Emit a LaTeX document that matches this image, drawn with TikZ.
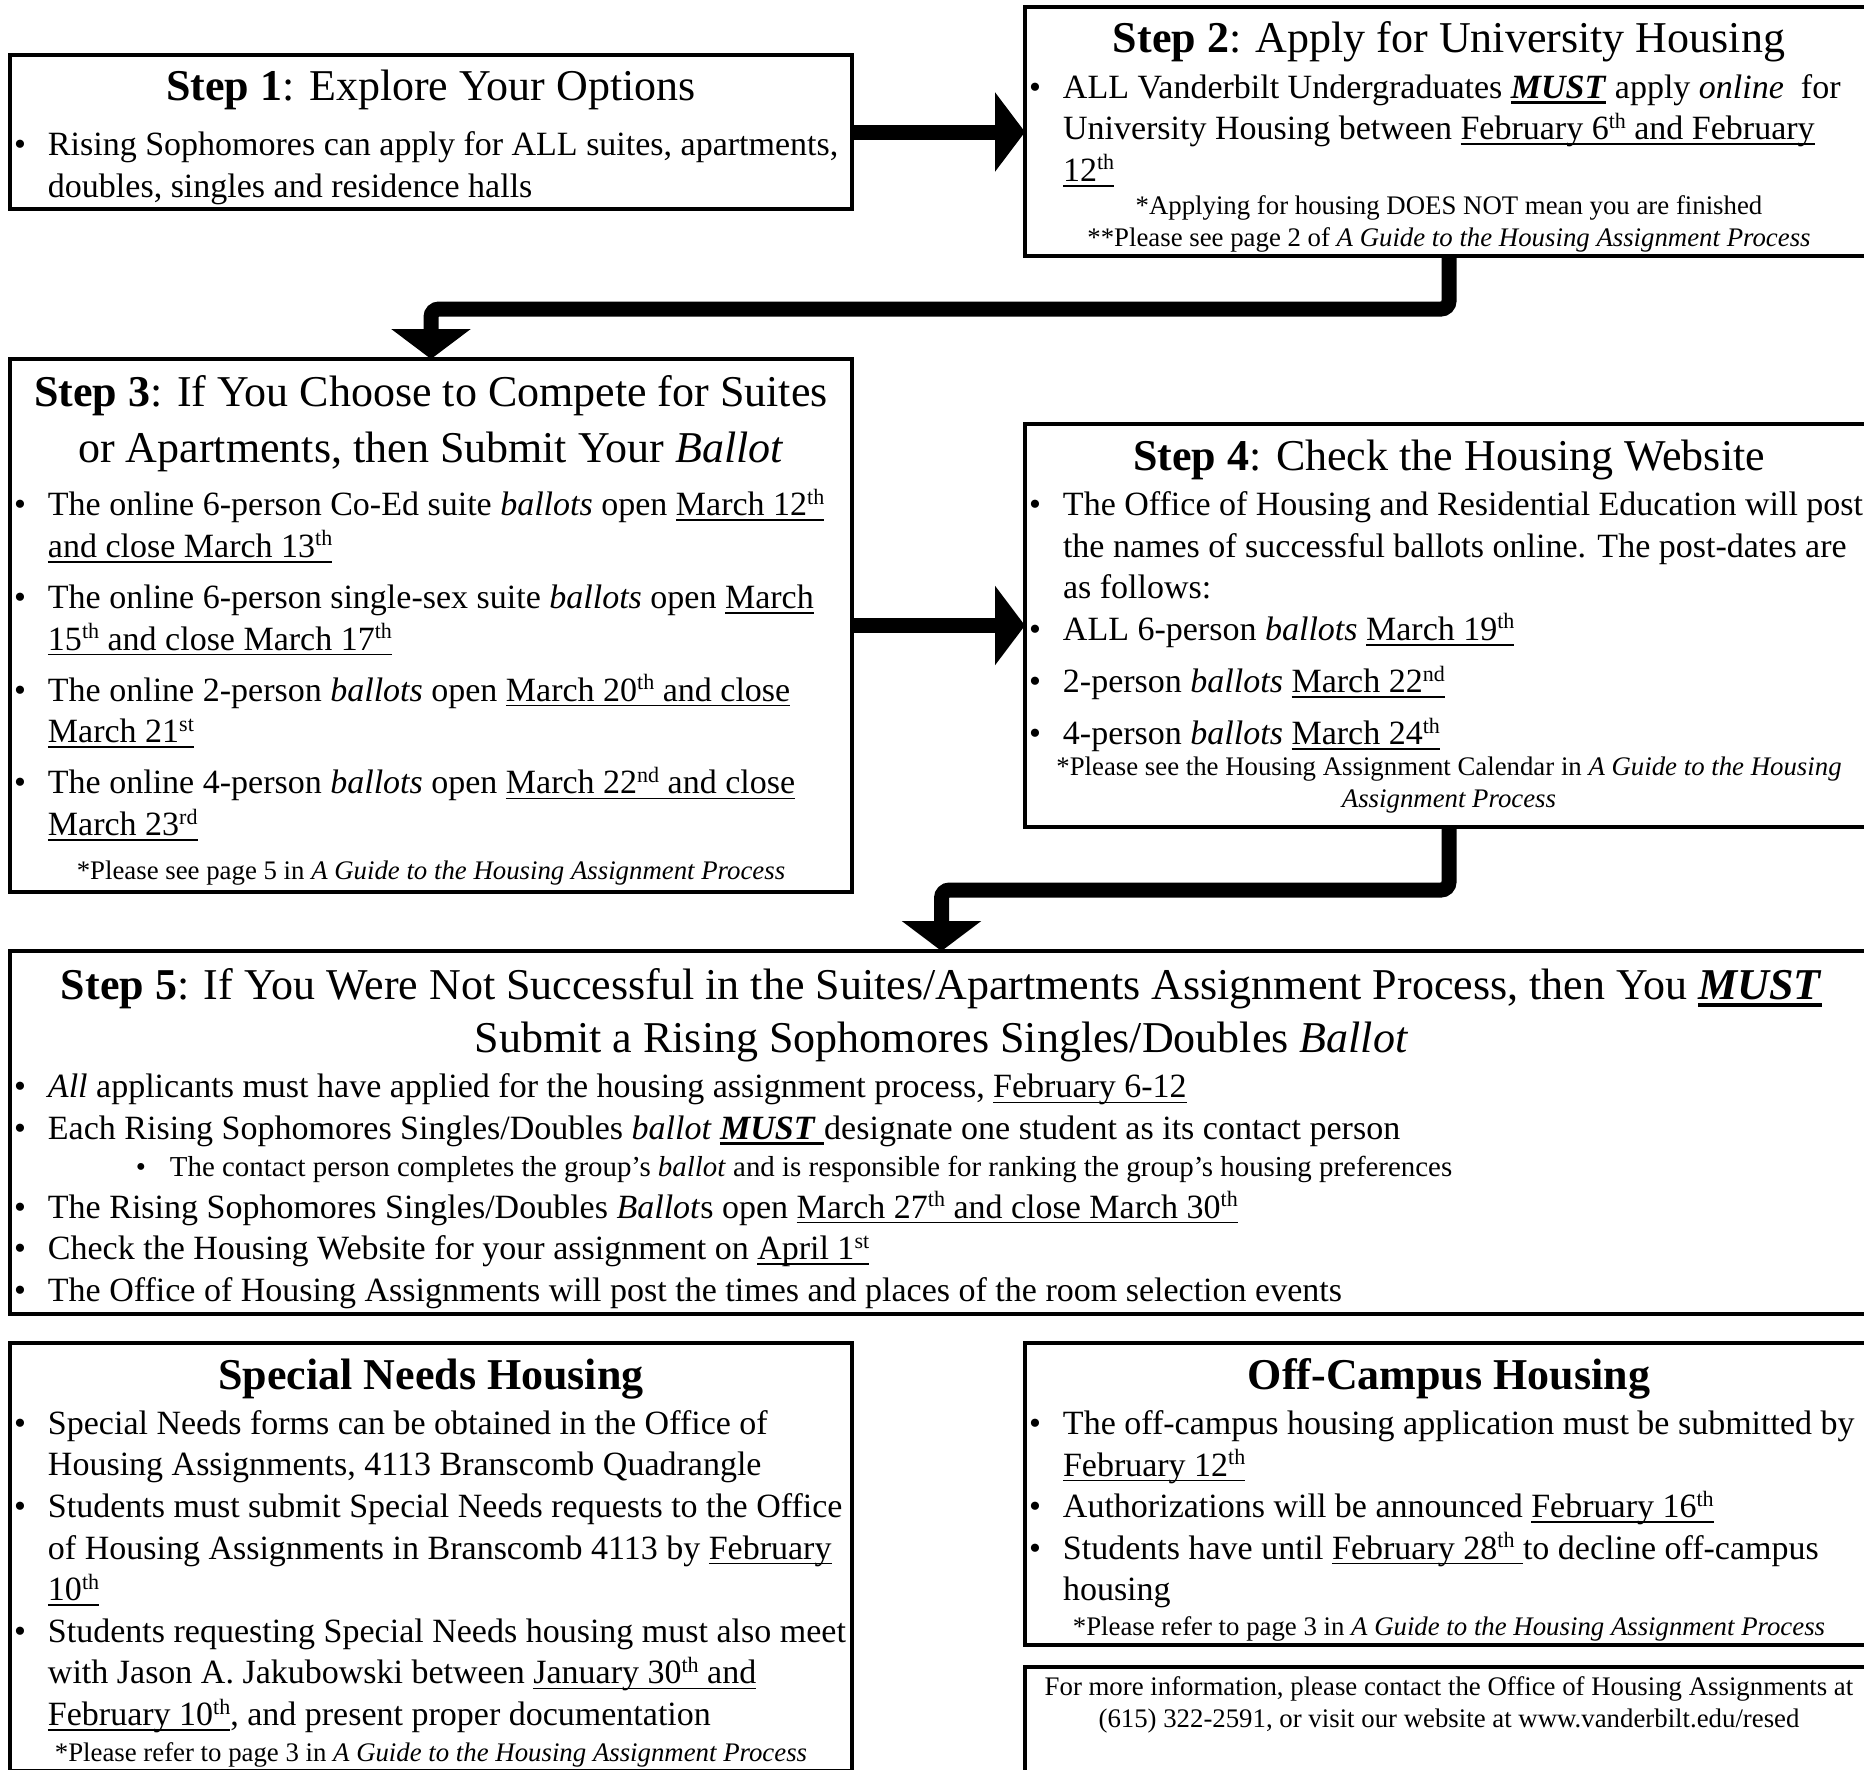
\documentclass[tikz,border=0pt]{standalone}
\usepackage{fontspec}
\setmainfont{Liberation Serif}
\usepackage{tikz}
\usetikzlibrary{arrows.meta,calc}

\newcommand{\ttlfont}{\fontsize{22pt}{26.8pt}\selectfont}
\newcommand{\txtfont}{\fontsize{17pt}{20.8pt}\selectfont}
\newcommand{\subfont}{\fontsize{14.45pt}{17pt}\selectfont}
\newcommand{\notefont}{\fontsize{13.4pt}{16pt}\selectfont}
\newcommand{\ul}[1]{\setbox0=\hbox{#1}\rlap{\rule[-0.15em]{\wd0}{0.045em}}\box0\relax}
\newcommand{\ulb}[1]{\setbox0=\hbox{#1}\rlap{\rule[-0.17em]{\wd0}{0.09em}}\box0\relax}
\newcommand{\ord}[1]{\raisebox{0.34em}{\fontsize{11pt}{11pt}\selectfont #1}}
\newcommand{\titl}[1]{{\centering\ttlfont #1\par}}
\newcommand{\note}[1]{{\centering\notefont #1\par}}
\newcommand{\bul}[1]{{\txtfont\rightskip=-12pt plus 1fil\hangindent=17pt\hangafter=1%
  \noindent\hbox to 17pt{\textbullet\hfil}#1\par}}
\newcommand{\subbul}[1]{{\subfont\leftskip=61pt\rightskip=0pt plus 1fil%
  \noindent\hbox to 17pt{\textbullet\hfil}#1\par}}
\newcommand{\guide}{\textit{A Guide to the Housing Assignment Process}}

\begin{document}
\begin{tikzpicture}[x=0.5pt,y=-0.5pt,
    box/.style={draw,line width=2pt,inner sep=0pt,outer sep=0pt},
    lbox/.style={box,minimum width=421pt},
    rbox/.style={box,minimum width=424pt},
    conn/.style={line width=7.5pt,rounded corners=4pt,
      -{Triangle[length=15pt,width=39pt]}}]
  % one unit = one pixel of the page, y going down
  \useasboundingbox (0,0) rectangle (1864,1769);
  \clip (0,0) rectangle (1864,1769);

  \node[lbox,minimum height=77pt] (step1) at (431,132) {\parbox{417pt}{\vspace*{5.4pt}%
    \titl{\textbf{Step 1}: Explore Your Options}\vspace{6.8pt}
    \bul{Rising Sophomores can apply for ALL suites, apartments,\\ doubles, singles and residence halls}}};

  \node[rbox,minimum height=124.5pt] (step2) at (1449,131.5) {\parbox{420pt}{\vspace*{5pt}%
    \titl{\textbf{Step 2}: Apply for University Housing}\vspace{2.3pt}
    \bul{ALL Vanderbilt Undergraduates \ulb{\textbf{\textit{MUST}}} apply \textit{online}\ \ for\\
      University Housing between \ul{February 6\ord{th} and February}\\ \ul{12\ord{th}}}\vspace{0.3pt}
    \note{*Applying for housing DOES NOT mean you are finished\\\relax **Please see page 2 of \guide}}};

  \node[lbox,minimum height=266.5pt] (step3) at (431,625.5) {\parbox{417pt}{\vspace*{4.8pt}%
    \titl{\textbf{Step 3}: If You Choose to Compete for Suites\\[1.2pt] or Apartments, then Submit Your \textit{Ballot}}\vspace{6pt}
    \bul{The online 6-person Co-Ed suite \textit{ballots} open \ul{March 12\ord{th}}\\ \ul{and close March 13\ord{th}}}\vspace{4.75pt}
    \bul{The online 6-person single-sex suite \textit{ballots} open \ul{March}\\ \ul{15\ord{th} and close March 17\ord{th}}}\vspace{4.75pt}
    \bul{The online 2-person \textit{ballots} open \ul{March 20\ord{th} and close}\\ \ul{March 21\ord{st}}}\vspace{4.75pt}
    \bul{The online 4-person \textit{ballots} open \ul{March 22\ord{nd} and close}\\ \ul{March 23\ord{rd}}}\vspace{6pt}
    \note{*Please see page 5 in \guide}}};

  \node[rbox,minimum height=201.5pt] (step4) at (1449,625.5) {\parbox{420pt}{\vspace*{1.2pt}%
    \titl{\textbf{Step 4}: Check the Housing Website}\vspace{1.7pt}
    \bul{The Office of Housing and Residential Education will post\\ the names of successful ballots online. The post-dates are\\ as follows:}
    \bul{ALL 6-person \textit{ballots} \ul{March 19\ord{th}}}\vspace{5.3pt}
    \bul{2-person \textit{ballots} \ul{March 22\ord{nd}}}\vspace{5.3pt}
    \bul{4-person \textit{ballots} \ul{March 24\ord{th}}}\vspace{-0.6pt}
    \note{*Please see the Housing Assignment Calendar in \textit{A Guide to the Housing}\\ \textit{Assignment Process}}}};

  \node[box,minimum width=931.5pt,minimum height=181.5pt] (step5) at (941.5,1132.5) {\parbox{927.5pt}{\vspace*{6pt}%
    \titl{\textbf{Step 5}: If You Were Not Successful in the Suites/Apartments Assignment Process, then You \ulb{\textbf{\textit{MUST}}}\\
      Submit a Rising Sophomores Singles/Doubles \textit{Ballot}}\vspace{1.7pt}
    \bul{\textit{All} applicants must have applied for the housing assignment process, \ul{February 6-12}}
    \bul{Each Rising Sophomores Singles/Doubles \textit{ballot} \ulb{\textbf{\textit{MUST} }}designate one student as its contact person}\vspace{1.5pt}
    \subbul{The contact person completes the group’s \textit{ballot} and is responsible for ranking the group’s housing preferences}
    \bul{The Rising Sophomores Singles/Doubles \textit{Ballot}s open \ul{March 27\ord{th} and close March 30\ord{th}}}
    \bul{Check the Housing Website for your assignment on \ul{April 1\ord{st}}}
    \bul{The Office of Housing Assignments will post the times and places of the room selection events}}};

  \node[lbox,minimum height=214pt] (special) at (431,1557) {\parbox{417pt}{\vspace*{6pt}%
    \titl{\textbf{Special Needs Housing}}\vspace{1.6pt}
    \bul{Special Needs forms can be obtained in the Office of\\ Housing Assignments, 4113 Branscomb Quadrangle}
    \bul{Students must submit Special Needs requests to the Office\\ of Housing Assignments in Branscomb 4113 by \ul{February}\\ \ul{10\ord{th}}}
    \bul{Students requesting Special Needs housing must also meet\\ with Jason A. Jakubowski between \ul{January 30\ord{th} and}\\
      \ul{February 10\ord{th}}, and present proper documentation}\vspace{1.8pt}
    \note{*Please refer to page 3 in \guide}}};

  \node[rbox,minimum height=151pt] (offcamp) at (1449,1494) {\parbox{420pt}{\vspace*{6pt}%
    \titl{\textbf{Off-Campus Housing}}\vspace{1.6pt}
    \bul{The off-campus housing application must be submitted by\\ \ul{February 12\ord{th}}}
    \bul{Authorizations will be announced \ul{February 16\ord{th}}}
    \bul{Students have until \ul{February 28\ord{th} }to decline off-campus\\ housing}\vspace{1.3pt}
    \note{*Please refer to page 3 in \guide}}};

  \node[rbox,minimum height=66.5pt] (contact) at (1449,1733.5) {\parbox[c][66.5pt][t]{420pt}{%
    \vspace*{5pt}
    \note{For more information, please contact the Office of Housing Assignments at\\
      (615) 322-2591, or visit our website at www.vanderbilt.edu/resed}}};

  \draw[conn] (step1.east) -- (step1.east -| step2.west);
  \draw[conn] (step2.south) -- ++(0,53) -| (step3.north);
  \draw[conn] (step3.east) -- (step3.east -| step4.west);
  \draw[conn] (step4.south) -- ++(0,63) -| (step5.north);
\end{tikzpicture}
\end{document}
